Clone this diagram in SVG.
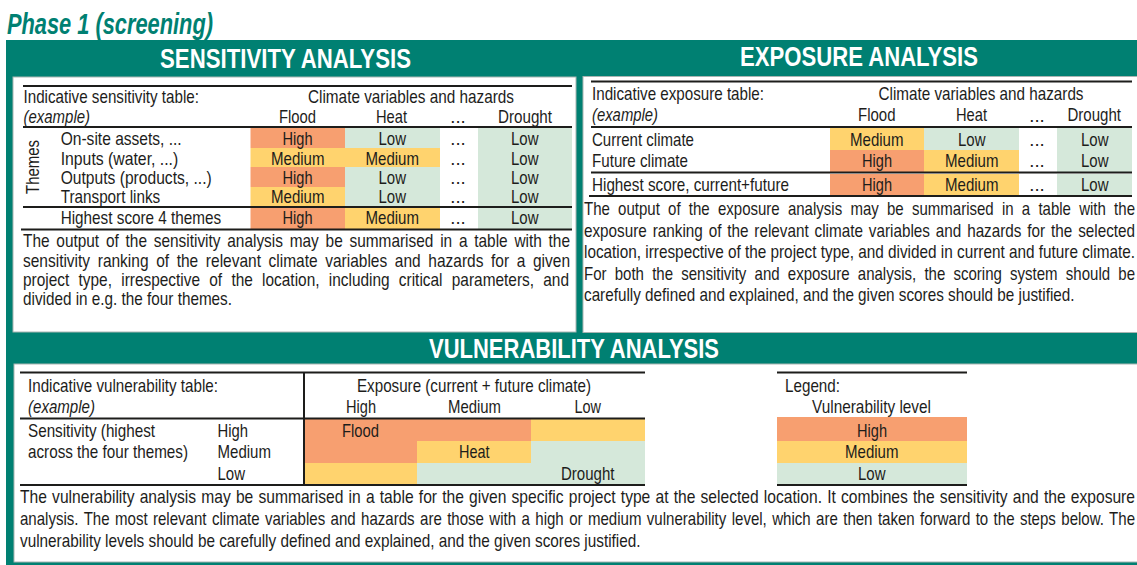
<svg xmlns="http://www.w3.org/2000/svg" width="1137" height="565" viewBox="0 0 1137 565">
<style>
text{font-family:"Liberation Sans",Arial,sans-serif;font-size:18.500px;fill:#1d1d1b}
.m{text-anchor:middle}
.i{font-style:italic}
.t{font-size:27px;font-weight:bold;fill:#fff}
.p{font-size:29px;font-weight:bold;font-style:italic;fill:#008072}
.h{fill:#F79F70}.d{fill:#FFD36E}.l{fill:#D5E8DA}
.r{stroke:#1d1d1b;stroke-width:2;fill:none}
.w{fill:#fff;stroke:#a9b5b2;stroke-width:1}
</style>
<rect width="1137" height="565" fill="#fff"/>
<text class="p" x="7" y="34" textLength="206" lengthAdjust="spacingAndGlyphs">Phase 1 (screening)</text>
<rect x="6" y="40" width="1131" height="525" fill="#008072"/>
<g id="sensitivity">
<rect class="w" x="13" y="77" width="563" height="255"/>
<text class="t" x="160" y="68" textLength="251" lengthAdjust="spacingAndGlyphs">SENSITIVITY ANALYSIS</text>
<rect class="h" x="250.500" y="128" width="94.500" height="20"/><rect class="l" x="345" y="128" width="95" height="20"/><rect class="l" x="478" y="128" width="94" height="79"/>
<rect class="d" x="250.500" y="148" width="94.500" height="19"/><rect class="d" x="345" y="148" width="95" height="19"/>
<rect class="h" x="250.500" y="167" width="94.500" height="20"/><rect class="l" x="345" y="167" width="95" height="40"/>
<rect class="d" x="250.500" y="187" width="94.500" height="20"/>
<rect class="h" x="250.500" y="208" width="94.500" height="21"/><rect class="d" x="345" y="208" width="95" height="21"/><rect class="l" x="478" y="208" width="94" height="21"/>
<path class="r" d="M23 86H572M23 127H572M23 207H572M21 229.500H572"/>
<text x="23.500" y="103" textLength="175.500" lengthAdjust="spacingAndGlyphs">Indicative sensitivity table:</text>
<text class="i" x="23.500" y="122.500" textLength="66.500" lengthAdjust="spacingAndGlyphs">(example)</text>
<text x="308" y="103" textLength="206" lengthAdjust="spacingAndGlyphs">Climate variables and hazards</text>
<text x="279" y="122.500" textLength="37" lengthAdjust="spacingAndGlyphs">Flood</text>
<text x="376" y="122.500" textLength="31" lengthAdjust="spacingAndGlyphs">Heat</text>
<text class="m" x="458" y="123">...</text>
<text x="498" y="122.500" textLength="54" lengthAdjust="spacingAndGlyphs">Drought</text>
<text transform="translate(39 194) rotate(-90)" textLength="54" lengthAdjust="spacingAndGlyphs">Themes</text>
<text x="60.700" y="145" textLength="121" lengthAdjust="spacingAndGlyphs">On-site assets, ...</text>
<text x="60.700" y="164.500" textLength="117.500" lengthAdjust="spacingAndGlyphs">Inputs (water, ...)</text>
<text x="60.700" y="183.500" textLength="151" lengthAdjust="spacingAndGlyphs">Outputs (products, ...)</text>
<text x="60.700" y="203" textLength="99.500" lengthAdjust="spacingAndGlyphs">Transport links</text>
<text x="60.700" y="224" textLength="160.500" lengthAdjust="spacingAndGlyphs">Highest score 4 themes</text>
<text x="282.500" y="145" textLength="30" lengthAdjust="spacingAndGlyphs">High</text>
<text x="271" y="164.500" textLength="53.500" lengthAdjust="spacingAndGlyphs">Medium</text>
<text x="282.500" y="183.500" textLength="30" lengthAdjust="spacingAndGlyphs">High</text>
<text x="271" y="203" textLength="53.500" lengthAdjust="spacingAndGlyphs">Medium</text>
<text x="282.500" y="224" textLength="30" lengthAdjust="spacingAndGlyphs">High</text>
<text x="378.500" y="145" textLength="27.500" lengthAdjust="spacingAndGlyphs">Low</text>
<text x="365.500" y="164.500" textLength="53.500" lengthAdjust="spacingAndGlyphs">Medium</text>
<text x="378.500" y="183.500" textLength="27.500" lengthAdjust="spacingAndGlyphs">Low</text>
<text x="378.500" y="203" textLength="27.500" lengthAdjust="spacingAndGlyphs">Low</text>
<text x="365.500" y="224" textLength="53.500" lengthAdjust="spacingAndGlyphs">Medium</text>
<text class="m" x="458" y="145">...</text><text class="m" x="458" y="164.500">...</text><text class="m" x="458" y="183.500">...</text><text class="m" x="458" y="203">...</text><text class="m" x="458" y="224">...</text>
<text x="511" y="145" textLength="27.500" lengthAdjust="spacingAndGlyphs">Low</text>
<text x="511" y="164.500" textLength="27.500" lengthAdjust="spacingAndGlyphs">Low</text>
<text x="511" y="183.500" textLength="27.500" lengthAdjust="spacingAndGlyphs">Low</text>
<text x="511" y="203" textLength="27.500" lengthAdjust="spacingAndGlyphs">Low</text>
<text x="511" y="224" textLength="27.500" lengthAdjust="spacingAndGlyphs">Low</text>
<text x="23" y="247" word-spacing="3" textLength="547" lengthAdjust="spacingAndGlyphs">The output of the sensitivity analysis may be summarised in a table with the</text>
<text x="23" y="266.500" word-spacing="4" textLength="547" lengthAdjust="spacingAndGlyphs">sensitivity ranking of the relevant climate variables and hazards for a given</text>
<text x="23" y="285.500" word-spacing="6" textLength="546" lengthAdjust="spacingAndGlyphs">project type, irrespective of the location, including critical parameters, and</text>
<text x="23" y="305" textLength="209" lengthAdjust="spacingAndGlyphs">divided in e.g. the four themes.</text>
</g>
<g id="exposure">
<rect class="w" x="583" y="76.500" width="560" height="256"/>
<text class="t" x="740" y="66" textLength="238" lengthAdjust="spacingAndGlyphs">EXPOSURE ANALYSIS</text>
<rect class="d" x="830" y="128" width="94" height="22"/><rect class="l" x="924" y="128" width="95" height="22"/><rect class="l" x="1057" y="128" width="75" height="44"/>
<rect class="h" x="830" y="150" width="94" height="22"/><rect class="d" x="924" y="150" width="95" height="22"/>
<rect class="h" x="830" y="174" width="94" height="22"/><rect class="d" x="924" y="174" width="95" height="22"/><rect class="l" x="1057" y="174" width="75" height="22"/>
<path class="r" d="M591 81.500H1132M591 127H1132M591 172.500H1132M589 196H1132"/>
<text x="592" y="100" textLength="172" lengthAdjust="spacingAndGlyphs">Indicative exposure table:</text>
<text class="i" x="592" y="121" textLength="66" lengthAdjust="spacingAndGlyphs">(example)</text>
<text x="878.500" y="100" textLength="205" lengthAdjust="spacingAndGlyphs">Climate variables and hazards</text>
<text x="858" y="121" textLength="37.500" lengthAdjust="spacingAndGlyphs">Flood</text>
<text x="956" y="121" textLength="31" lengthAdjust="spacingAndGlyphs">Heat</text>
<text class="m" x="1037" y="121.500">...</text>
<text x="1067.500" y="121" textLength="53.500" lengthAdjust="spacingAndGlyphs">Drought</text>
<text x="592" y="145.500" textLength="102" lengthAdjust="spacingAndGlyphs">Current climate</text>
<text x="592" y="166.500" textLength="96" lengthAdjust="spacingAndGlyphs">Future climate</text>
<text x="592" y="191" textLength="197" lengthAdjust="spacingAndGlyphs">Highest score, current+future</text>
<text x="850" y="145.500" textLength="53.500" lengthAdjust="spacingAndGlyphs">Medium</text>
<text x="862" y="166.500" textLength="30" lengthAdjust="spacingAndGlyphs">High</text>
<text x="862" y="191" textLength="30" lengthAdjust="spacingAndGlyphs">High</text>
<text x="958" y="145.500" textLength="27.500" lengthAdjust="spacingAndGlyphs">Low</text>
<text x="945" y="166.500" textLength="53.500" lengthAdjust="spacingAndGlyphs">Medium</text>
<text x="945" y="191" textLength="53.500" lengthAdjust="spacingAndGlyphs">Medium</text>
<text class="m" x="1037" y="145.500">...</text><text class="m" x="1037" y="166.500">...</text><text class="m" x="1037" y="191">...</text>
<text x="1081" y="145.500" textLength="27.500" lengthAdjust="spacingAndGlyphs">Low</text>
<text x="1081" y="166.500" textLength="27.500" lengthAdjust="spacingAndGlyphs">Low</text>
<text x="1081" y="191" textLength="27.500" lengthAdjust="spacingAndGlyphs">Low</text>
<text x="584" y="215" word-spacing="5" textLength="551" lengthAdjust="spacingAndGlyphs">The output of the exposure analysis may be summarised in a table with the</text>
<text x="584" y="236.500" word-spacing="2" textLength="551" lengthAdjust="spacingAndGlyphs">exposure ranking of the relevant climate variables and hazards for the selected</text>
<text x="584" y="258" textLength="551" lengthAdjust="spacingAndGlyphs">location, irrespective of the project type, and divided in current and future climate.</text>
<text x="584" y="279.500" word-spacing="5" textLength="551" lengthAdjust="spacingAndGlyphs">For both the sensitivity and exposure analysis, the scoring system should be</text>
<text x="584" y="301" textLength="490.500" lengthAdjust="spacingAndGlyphs">carefully defined and explained, and the given scores should be justified.</text>
</g>
<g id="vulnerability">
<rect class="w" x="14" y="364" width="1130" height="198"/>
<text class="t" x="429" y="358" textLength="290" lengthAdjust="spacingAndGlyphs">VULNERABILITY ANALYSIS</text>
<rect class="h" x="304" y="419" width="227" height="22"/><rect class="d" x="531" y="419" width="114" height="22"/>
<rect class="h" x="304" y="441" width="113" height="22"/><rect class="d" x="417" y="441" width="114" height="22"/><rect class="l" x="531" y="441" width="114" height="22"/>
<rect class="d" x="304" y="463" width="113" height="22"/><rect class="l" x="417" y="463" width="228" height="22"/>
<path class="r" d="M20 372.500H645M20 418.500H645M20 485H645M304 372V486"/>
<text x="28" y="391.500" textLength="190" lengthAdjust="spacingAndGlyphs">Indicative vulnerability table:</text>
<text class="i" x="28" y="413" textLength="67" lengthAdjust="spacingAndGlyphs">(example)</text>
<text x="357" y="391.500" textLength="234" lengthAdjust="spacingAndGlyphs">Exposure (current + future climate)</text>
<text x="346" y="413" textLength="30" lengthAdjust="spacingAndGlyphs">High</text>
<text x="448" y="413" textLength="53" lengthAdjust="spacingAndGlyphs">Medium</text>
<text x="574.500" y="413" textLength="26.500" lengthAdjust="spacingAndGlyphs">Low</text>
<text x="28" y="436.500" textLength="127" lengthAdjust="spacingAndGlyphs">Sensitivity (highest</text>
<text x="28" y="458" textLength="160" lengthAdjust="spacingAndGlyphs">across the four themes)</text>
<text x="217.500" y="436.500" textLength="30.500" lengthAdjust="spacingAndGlyphs">High</text>
<text x="217.500" y="458" textLength="53.500" lengthAdjust="spacingAndGlyphs">Medium</text>
<text x="217.500" y="480" textLength="27.500" lengthAdjust="spacingAndGlyphs">Low</text>
<text x="342" y="436.500" textLength="37" lengthAdjust="spacingAndGlyphs">Flood</text>
<text x="459" y="458" textLength="30.500" lengthAdjust="spacingAndGlyphs">Heat</text>
<text x="561" y="480" textLength="53.500" lengthAdjust="spacingAndGlyphs">Drought</text>
<text x="20" y="503" word-spacing="1" textLength="1115" lengthAdjust="spacingAndGlyphs">The vulnerability analysis may be summarised in a table for the given specific project type at the selected location. It combines the sensitivity and the exposure</text>
<text x="20" y="525" word-spacing="1.500" textLength="1115" lengthAdjust="spacingAndGlyphs">analysis. The most relevant climate variables and hazards are those with a high or medium vulnerability level, which are then taken forward to the steps below. The</text>
<text x="20" y="546.500" textLength="620.500" lengthAdjust="spacingAndGlyphs">vulnerability levels should be carefully defined and explained, and the given scores justified.</text>
</g>
<g id="legend">
<rect class="h" x="777" y="417" width="190" height="24"/><rect class="d" x="777" y="441" width="190" height="22"/><rect class="l" x="777" y="463" width="190" height="22"/>
<path class="r" d="M777 372.500H967M777 485H967"/>
<text x="785" y="391.500" textLength="55" lengthAdjust="spacingAndGlyphs">Legend:</text>
<text x="812" y="413" textLength="119" lengthAdjust="spacingAndGlyphs">Vulnerability level</text>
<text x="857" y="436.500" textLength="30" lengthAdjust="spacingAndGlyphs">High</text>
<text x="845" y="458" textLength="53.500" lengthAdjust="spacingAndGlyphs">Medium</text>
<text x="858" y="480" textLength="27.500" lengthAdjust="spacingAndGlyphs">Low</text>
</g>
</svg>
